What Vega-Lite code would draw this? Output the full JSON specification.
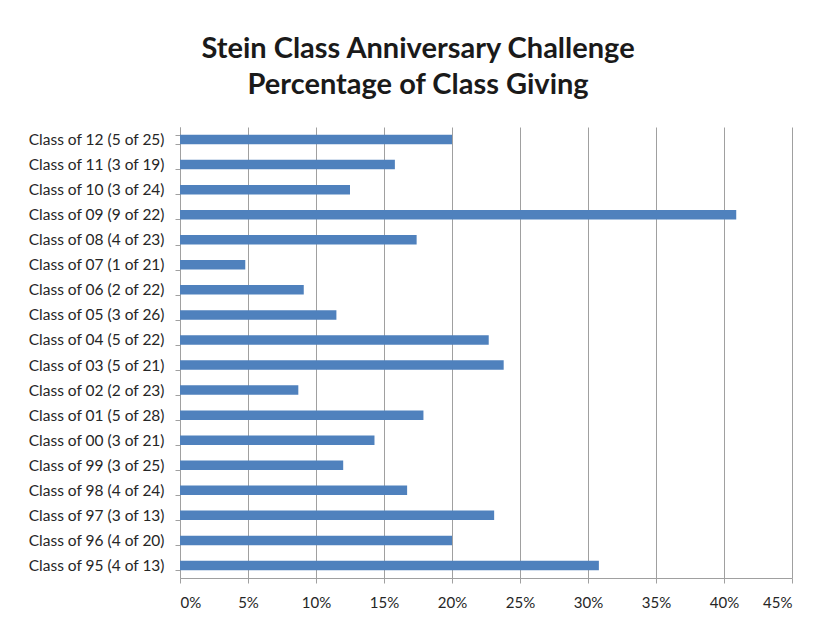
{
  "$schema": "https://vega.github.io/schema/vega-lite/v6.json",
  "width": 612,
  "height": 451,
  "autosize": {"type": "none"},
  "padding": {"left": 180, "top": 127, "right": 25, "bottom": 41},
  "background": "white",
  "title": {
    "text": ["Stein Class Anniversary Challenge", "Percentage of Class Giving"],
    "font": "Lato",
    "fontSize": 29,
    "fontWeight": "bold",
    "color": "#1a1a1a",
    "lineHeight": 36,
    "anchor": "middle",
    "frame": "bounds",
    "offset": 20,
    "dx": 8
  },
  "data": {
    "values": [
      {"label": "Class of 12 (5 of 25)", "pct": 0.2},
      {"label": "Class of 11 (3 of 19)", "pct": 0.158},
      {"label": "Class of 10 (3 of 24)", "pct": 0.125},
      {"label": "Class of 09 (9 of 22)", "pct": 0.409},
      {"label": "Class of 08 (4 of 23)", "pct": 0.174},
      {"label": "Class of 07 (1 of 21)", "pct": 0.048},
      {"label": "Class of 06 (2 of 22)", "pct": 0.091},
      {"label": "Class of 05 (3 of 26)", "pct": 0.115},
      {"label": "Class of 04 (5 of 22)", "pct": 0.227},
      {"label": "Class of 03 (5 of 21)", "pct": 0.238},
      {"label": "Class of 02 (2 of 23)", "pct": 0.087},
      {"label": "Class of 01 (5 of 28)", "pct": 0.179},
      {"label": "Class of 00 (3 of 21)", "pct": 0.143},
      {"label": "Class of 99 (3 of 25)", "pct": 0.12},
      {"label": "Class of 98 (4 of 24)", "pct": 0.167},
      {"label": "Class of 97 (3 of 13)", "pct": 0.231},
      {"label": "Class of 96 (4 of 20)", "pct": 0.2},
      {"label": "Class of 95 (4 of 13)", "pct": 0.308}
    ]
  },
  "mark": {"type": "bar", "color": "#4f81bd"},
  "encoding": {
    "y": {
      "field": "label",
      "type": "nominal",
      "sort": null,
      "title": null,
      "scale": {"paddingInner": 0.62, "paddingOuter": 0.31},
      "axis": {
        "tickBand": "extent",
        "grid": false,
        "domainColor": "#a0a0a0",
        "tickColor": "#a0a0a0",
        "tickSize": 5,
        "labelFont": "Lato",
        "labelFontSize": 15.5,
        "labelColor": "#262626",
        "labelPadding": 11
      }
    },
    "x": {
      "field": "pct",
      "type": "quantitative",
      "title": null,
      "scale": {"domain": [0, 0.45], "nice": false},
      "axis": {
        "format": ".0%",
        "values": [0, 0.05, 0.1, 0.15, 0.2, 0.25, 0.3, 0.35, 0.4, 0.45],
        "grid": true,
        "gridColor": "#a0a0a0",
        "domainColor": "#a0a0a0",
        "tickColor": "#a0a0a0",
        "tickSize": 5,
        "labelFont": "Lato",
        "labelFontSize": 15,
        "labelColor": "#262626",
        "labelPadding": 12
      }
    }
  },
  "config": {"view": {"stroke": null}}
}
